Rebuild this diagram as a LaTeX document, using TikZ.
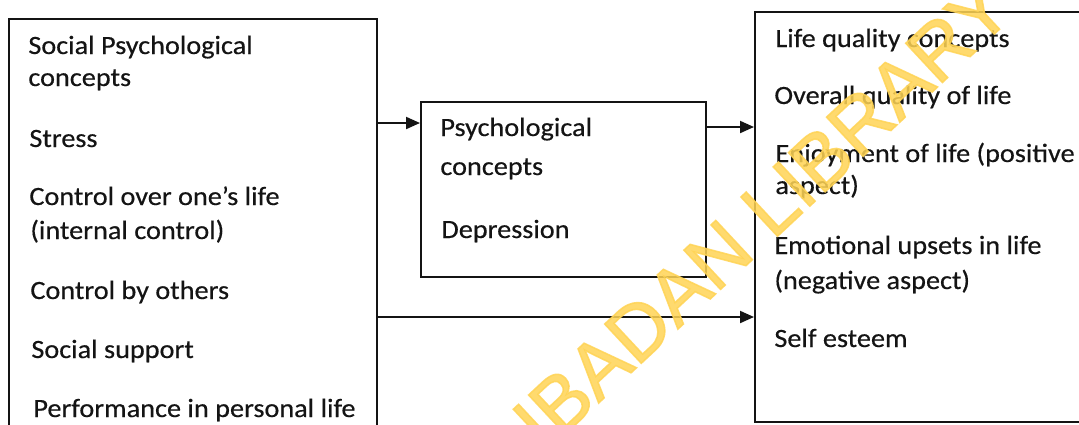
\documentclass[tikz,border=0pt]{standalone}
\usepackage{fontspec}
\setmainfont{Carlito}[FakeStretch=1.07,FakeBold=0.4]
\newfontfamily\wmfont{Liberation Sans}[FakeBold=2]
\usetikzlibrary{arrows.meta}
\definecolor{wmcol}{RGB}{255,212,85}
\definecolor{ink}{RGB}{20,20,20}
\begin{document}
\begin{tikzpicture}[x=0.5pt,y=-0.5pt,
  panel/.style={draw=ink,line width=1pt,inner sep=0pt,anchor=north west},
  txt/.style={anchor=base west,inner sep=0pt,text=ink,font=\fontsize{13.2}{15}\selectfont},
  arr/.style={draw=ink,line width=1pt,-{Triangle[length=7pt,width=6pt]}}]
\useasboundingbox (0,0) rectangle (1079,424);
\fill[white] (0,0) rectangle (1079,424);
% boxes
\node[panel,minimum width=184pt,minimum height=211pt] (L) at (8,18) {};
\node[panel,minimum width=142.5pt,minimum height=87.5pt] (M) at (420,101) {};
\node[panel,minimum width=170.5pt,minimum height=205pt] (R) at (754,11) {};
% left texts
\node[txt] (l1) at (28,54) {Social Psychological};
\node[txt] (l2) at (28,86) {concepts};
\node[txt] (l3) at (29,147) {Stress};
\node[txt] (l4) at (29,205) {Control over one’s life};
\node[txt] (l5) at (30,239) {(internal control)};
\node[txt] (l6) at (30,299) {Control by others};
\node[txt] (l7) at (31,358) {Social support};
\node[txt] (l8) at (33,417) {Performance in personal life};
% middle texts
\node[txt] (m1) at (440,136) {Psychological};
\node[txt] (m2) at (440,175) {concepts};
\node[txt] (m3) at (441,238) {Depression};
% right texts
\node[txt] (r1) at (775,47) {Life quality concepts};
\node[txt] (r2) at (774,104) {Overall quality of life};
\node[txt] (r3) at (775,162) {Enjoyment of life (positive};
\node[txt] (r4) at (775,194) {aspect)};
\node[txt] (r5) at (774,254) {Emotional upsets in life};
\node[txt] (r6) at (774,289) {(negative aspect)};
\node[txt] (r7) at (774,347) {Self esteem};
% connectors
\draw[arr] (L.east |- 0,123) -- (M.west |- 0,123);
\draw[arr] (M.east |- 0,127) -- (R.west |- 0,127);
\draw[arr] (L.east |- 0,317) -- (R.west |- 0,317);
% watermark
\node[rotate=43,inner sep=0pt,text=wmcol,text opacity=0.85,font=\wmfont\fontsize{39}{39}\selectfont] (wm) at (762,214) {IBADAN LIBRARY};
\end{tikzpicture}
\end{document}
